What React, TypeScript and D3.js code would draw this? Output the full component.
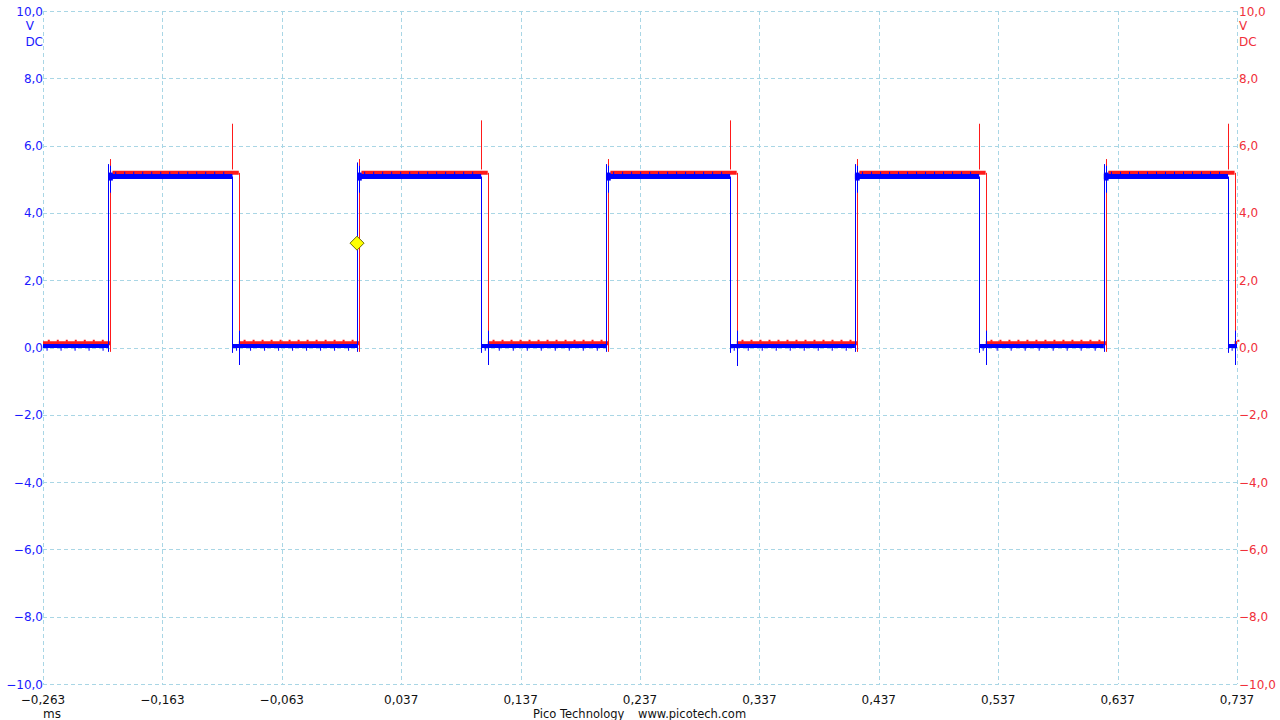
import React from "react";
import * as d3 from "d3";

// ---- axis ticks ----
const xTicks = [-0.263, -0.163, -0.063, 0.037, 0.137, 0.237, 0.337, 0.437, 0.537, 0.637, 0.737];
const xTickLabels = ["−0,263", "−0,163", "−0,063", "0,037", "0,137", "0,237", "0,337", "0,437", "0,537", "0,637", "0,737"];
const yTicks = [10, 8, 6, 4, 2, 0, -2, -4, -6, -8, -10];
const yTickLabels = ["10,0", "8,0", "6,0", "4,0", "2,0", "0,0", "−2,0", "−4,0", "−6,0", "−8,0", "−10,0"];

// ---- channel A (blue) ----
const blueRise = [-0.2085, 0.0, 0.2085, 0.417, 0.6255];
const blueFall = [-0.1043, 0.104, 0.3125, 0.521, 0.7295];
const blueRiseTop = [5.45, 5.5, 5.45, 5.45, 5.45];
const blueUndershoot = [-0.52, -0.52, -0.55, -0.52, -0.52];
const blueHigh = 5.08;
const blueLow = 0.045;

// ---- channel B (red) ----
const redRise = [-0.2068, 0.0017, 0.2102, 0.4187, 0.6272];
const redFall = [-0.099, 0.1095, 0.318, 0.5265, 0.735];
const redRiseTop = [5.6, 5.6, 5.6, 5.6, 5.6];
const redSpikeTop = [6.65, 6.75, 6.75, 6.65, 6.65];
const redHigh = 5.19;
const redLow = 0.13;

const trigger = { t: 0.0, v: 3.1 };

const T0 = -0.263;
const T1 = 0.737;

const x = d3.scaleLinear().domain([T0, T1]).range([43, 1237]);
const y = d3.scaleLinear().domain([-10, 10]).range([684, 11]);

function segments(rise: number[], fall: number[]) {
  const high: [number, number][] = rise.map((r, i) => [r, fall[i]]);
  const low: [number, number][] = [];
  low.push([T0, rise[0]]);
  for (let i = 0; i < fall.length; i++) {
    low.push([fall[i], i + 1 < rise.length ? rise[i + 1] : T1]);
  }
  return { high, low };
}

const BLUE = "#0000ff";
const RED = "#ff1a1a";
const GRID = "#a9d6e5";

export default function App() {
  const b = segments(blueRise, blueFall);
  const r = segments(redRise, redFall);
  const hline = (a: number, c: number, v: number) => `M${x(a)},${y(v)}H${x(c)}`;
  const vline = (t: number, v1: number, v2: number) => `M${Math.round(x(t)) + 0.5},${y(v1)}V${y(v2)}`;

  return (
    <svg
      width={1280}
      height={720}
      style={{ position: "absolute", left: 0, top: 0, background: "#fff" }}
      fontFamily="DejaVu Sans, sans-serif"
      fontSize={12}
    >
      {/* grid */}
      <g stroke={GRID} strokeWidth={1} strokeDasharray="4,3" fill="none">
        {xTicks.map((t, i) => (
          <path key={"gx" + i} d={`M${Math.round(x(t)) + 0.5},${y(10)}V${y(-10)}`} />
        ))}
        {yTicks.map((v, i) => (
          <path key={"gy" + i} d={`M${x(T0)},${Math.round(y(v)) + 0.5}H${x(T1)}`} />
        ))}
      </g>

      {/* red channel */}
      <g fill="none" stroke={RED}>
        {r.high.map((s, i) => (
          <path key={"rh" + i} d={hline(s[0] + 0.002, s[1], redHigh)} strokeWidth={4} />
        ))}
        {r.low.map((s, i) => (
          <path key={"rl" + i} d={hline(s[0], s[1], redLow)} strokeWidth={4} />
        ))}
        {r.low.map((s, i) => (
          <path key={"rlt" + i} d={hline(s[0] + 0.004, s[1] - 0.002, redLow + 0.07)} strokeWidth={2} strokeDasharray="2,7" />
        ))}
        {redRise.map((t, i) => (
          <path key={"rr" + i} d={vline(t, -0.13, redRiseTop[i])} strokeWidth={1} />
        ))}
        {redFall.map((t, i) => (
          <path key={"rf" + i} d={vline(t, redHigh, redLow - 0.05)} strokeWidth={1} />
        ))}
      </g>

      {/* blue channel */}
      <g fill="none" stroke={BLUE}>
        {b.high.map((s, i) => (
          <path key={"bh" + i} d={hline(s[0], s[1], blueHigh)} strokeWidth={5} />
        ))}
        {b.high.map((s, i) => (
          <path key={"bht" + i} d={hline(s[0] + 0.006, s[1] - 0.002, blueHigh + 0.1)} strokeWidth={3} strokeDasharray="1,8" />
        ))}
        {b.low.map((s, i) => (
          <path key={"bl" + i} d={hline(s[0], s[1], blueLow)} strokeWidth={4} />
        ))}
        {b.low.map((s, i) => (
          <path key={"blt" + i} d={hline(s[0] + 0.003, s[1] - 0.003, blueLow - 0.1)} strokeWidth={3} strokeDasharray="1,13" />
        ))}
        {blueRise.map((t, i) => (
          <path key={"br" + i} d={vline(t, -0.13, blueRiseTop[i])} strokeWidth={1} />
        ))}
        {blueRise.map((t, i) => (
          <path key={"brs" + i} d={vline(t + 0.0018, 4.6, 5.4)} strokeWidth={1} />
        ))}
        {blueRise.map((t, i) => (
          <path key={"brb" + i} d={`M${x(t)},${y(blueHigh)}H${x(t + 0.004)}`} strokeWidth={8} />
        ))}
        {blueFall.map((t, i) => (
          <path key={"bf" + i} d={vline(t, blueHigh, -0.16)} strokeWidth={1} />
        ))}
        {redFall.map((t, i) => (
          <path key={"bu" + i} d={vline(t, 0.5, blueUndershoot[i])} strokeWidth={1} />
        ))}
      </g>

      {/* red crosstalk spikes at blue falling edges */}
      <g fill="none" stroke={RED} strokeWidth={1}>
        {blueFall.map((t, i) => (
          <path key={"rs" + i} d={vline(t, redHigh + 0.1, redSpikeTop[i])} />
        ))}
      </g>

      {/* trigger marker */}
      <path
        d={`M${x(trigger.t)},${y(trigger.v) - 7}L${x(trigger.t) + 7},${y(trigger.v)}L${x(trigger.t)},${y(trigger.v) + 7}L${x(trigger.t) - 7},${y(trigger.v)}Z`}
        fill="#ffff00"
        stroke="#6b6b00"
        strokeWidth={1}
      />

      {/* left axis labels */}
      <g fill="#1a1aff" textAnchor="end">
        {yTicks.map((v, i) => (
          <text key={"yl" + i} x={43} y={y(v) + 4.5}>
            {yTickLabels[i]}
          </text>
        ))}
        <text x={34} y={30}>V</text>
        <text x={43} y={46}>DC</text>
      </g>

      {/* right axis labels */}
      <g fill="#f0303a" textAnchor="start">
        {yTicks.map((v, i) => (
          <text key={"yr" + i} x={1239} y={y(v) + 4.5}>
            {yTickLabels[i]}
          </text>
        ))}
        <text x={1239} y={30}>V</text>
        <text x={1239} y={46}>DC</text>
      </g>

      {/* x axis labels */}
      <g fill="#111" textAnchor="middle">
        {xTicks.map((t, i) => (
          <text key={"xl" + i} x={x(t)} y={704}>
            {xTickLabels[i]}
          </text>
        ))}
        <text x={52} y={718}>ms</text>
      </g>
      <g fill="#111" fontSize={11.5}>
        <text x={533} y={718}>Pico Technology</text>
        <text x={638} y={718}>www.picotech.com</text>
      </g>
    </svg>
  );
}
